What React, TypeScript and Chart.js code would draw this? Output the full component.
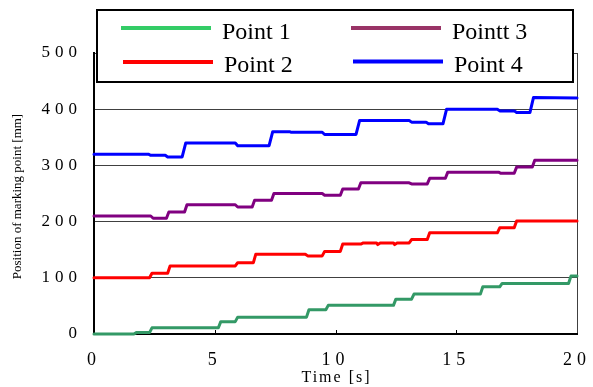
import React, { useEffect, useRef } from "react";
import { Chart, registerables } from "chart.js";

Chart.register(...registerables);

const SERIES_LABELS = ["Point 1", "Point 2", "Pointt 3", "Point 4"];
const X_TICKS = [0, 5, 10, 15, 20];
const Y_TICKS = [0, 100, 200, 300, 400, 500];

const P1_TIME = [0, 1.65, 1.75, 2.3, 2.4, 5.15, 5.25, 5.85, 5.95, 8.8, 8.9, 9.6, 9.7, 12.4, 12.5, 13.15, 13.25, 16.0, 16.1, 16.8, 16.9, 19.65, 19.75, 20];
const P1_POS = [0, 0, 2.5, 2.5, 11, 11, 22, 22, 30, 30, 43, 43, 51, 51, 62, 62, 71, 71, 84, 84, 90, 90, 103, 103];

const P2_TIME = [0, 2.3, 2.4, 3.05, 3.15, 5.85, 5.95, 6.6, 6.7, 8.75, 8.85, 9.45, 9.55, 10.2, 10.3, 11.05, 11.15, 11.7, 11.75, 11.85, 12.4, 12.45, 12.55, 13.05, 13.15, 13.8, 13.9, 16.7, 16.8, 17.4, 17.5, 20];
const P2_POS = [100, 100, 108, 108, 121, 121, 127, 127, 142, 142, 139, 139, 147, 147, 160, 160, 162, 162, 159, 162, 162, 159, 162, 162, 168, 168, 180, 180, 189, 189, 201, 201];

const P3_TIME = [0, 2.35, 2.45, 3.0, 3.1, 3.75, 3.85, 5.85, 5.95, 6.55, 6.65, 7.35, 7.45, 9.45, 9.55, 10.2, 10.3, 10.95, 11.05, 13.05, 13.15, 13.8, 13.9, 14.55, 14.65, 16.75, 16.85, 17.4, 17.5, 18.15, 18.25, 20];
const P3_POS = [210, 210, 206, 206, 217, 217, 230, 230, 226, 226, 238, 238, 250, 250, 247, 247, 258, 258, 269, 269, 267, 267, 277, 277, 288, 288, 286, 286, 297, 297, 309, 309];

const P4_TIME = [0, 2.25, 2.35, 2.95, 3.05, 3.65, 3.8, 5.85, 5.95, 7.25, 7.4, 8.1, 8.15, 9.45, 9.55, 10.85, 11.0, 13.05, 13.15, 13.75, 13.85, 14.45, 14.6, 16.7, 16.8, 17.4, 17.5, 18.05, 18.2, 20];
const P4_POS = [320, 320, 318, 318, 315, 315, 340, 340, 335, 335, 360, 360, 359, 359, 355, 355, 380, 380, 377, 377, 374, 374, 400, 400, 397, 397, 394, 394, 421, 420];

const LINE_COLORS = ["#339966", "#ff0000", "#800080", "#0000ff"];
const LEGEND_COLORS = ["#33cc66", "#ff0000", "#993366", "#0000ff"];

const toPoints = (t: number[], v: number[]) => t.map((x, i) => ({ x, y: v[i] }));

const SERIF = "'Liberation Serif', 'Times New Roman', serif";

const overlayPlugin = {
  id: "overlay",
  beforeDraw(chart: any) {
    chart.ctx.letterSpacing = "5px";
  },
  afterDraw(chart: any) {
    const ctx = chart.ctx as CanvasRenderingContext2D;
    const xs = chart.scales.x;
    const ys = chart.scales.y;
    ctx.save();
    (ctx as any).letterSpacing = "0px";

    // inner x tick marks
    ctx.strokeStyle = "#000";
    ctx.lineWidth = 1;
    for (const v of X_TICKS.slice(1, -1)) {
      const px = Math.round(xs.getPixelForValue(v)) + 0.5;
      ctx.beginPath();
      ctx.moveTo(px, ys.bottom);
      ctx.lineTo(px, ys.bottom - 4);
      ctx.stroke();
    }

    // y axis title
    ctx.save();
    ctx.fillStyle = "#000";
    ctx.font = `13px ${SERIF}`;
    ctx.textAlign = "center";
    ctx.textBaseline = "middle";
    ctx.translate(18, (ys.top + ys.bottom) / 2 + 3);
    ctx.rotate(-Math.PI / 2);
    ctx.fillText("Position of marking point [mm]", 0, 0);
    ctx.restore();

    // x axis title
    ctx.save();
    (ctx as any).letterSpacing = "2px";
    ctx.fillStyle = "#000";
    ctx.font = `16px ${SERIF}`;
    ctx.textAlign = "center";
    ctx.textBaseline = "alphabetic";
    ctx.fillText("Time [s]", (xs.left + xs.right) / 2 + 1, 382);
    ctx.restore();

    // legend box
    ctx.fillStyle = "#fff";
    ctx.fillRect(97, 10, 476, 72);
    ctx.strokeStyle = "#000";
    ctx.lineWidth = 2;
    ctx.strokeRect(97, 10, 476, 72);

    const items = [
      { x: 121, y: 28, tx: 222, ty: 38.5 },
      { x: 123, y: 62, tx: 224, ty: 72 },
      { x: 351, y: 28, tx: 452, ty: 38.5 },
      { x: 353, y: 61.5, tx: 454, ty: 72 },
    ];
    ctx.font = `24px ${SERIF}`;
    ctx.textAlign = "left";
    ctx.textBaseline = "alphabetic";
    items.forEach((it, i) => {
      ctx.strokeStyle = LEGEND_COLORS[i];
      ctx.lineWidth = 4;
      ctx.beginPath();
      ctx.moveTo(it.x, it.y);
      ctx.lineTo(it.x + 90, it.y);
      ctx.stroke();
      ctx.fillStyle = "#000";
      ctx.fillText(chart.data.datasets[i].label, it.tx, it.ty);
    });
    ctx.restore();
  },
};

export default function App() {
  const ref = useRef<HTMLCanvasElement | null>(null);

  useEffect(() => {
    if (!ref.current) return;
    const series = [
      toPoints(P1_TIME, P1_POS),
      toPoints(P2_TIME, P2_POS),
      toPoints(P3_TIME, P3_POS),
      toPoints(P4_TIME, P4_POS),
    ];
    const chart = new Chart(ref.current, {
      type: "line",
      data: {
        datasets: series.map((d, i) => ({
          label: SERIES_LABELS[i],
          data: d,
          borderColor: LINE_COLORS[i],
          backgroundColor: LINE_COLORS[i],
          borderWidth: 3,
          pointRadius: 0,
          tension: 0,
          borderCapStyle: "round",
          borderJoinStyle: "round",
          clip: false,
        })),
      },
      options: {
        animation: false,
        responsive: false,
        devicePixelRatio: 1,
        layout: { padding: { top: 53, right: 16, left: 0, bottom: 0 } },
        plugins: { legend: { display: false }, tooltip: { enabled: false } },
        scales: {
          x: {
            type: "linear",
            min: 0,
            max: 20,
            afterBuildTicks: (s: any) => {
              s.ticks = X_TICKS.map((v) => ({ value: v }));
            },
            afterFit: (s: any) => {
              s.height = 53;
              s.paddingLeft = 0;
              s.paddingRight = 0;
            },
            ticks: {
              font: { family: SERIF, size: 18 },
              color: "#000",
              padding: 15,
              maxRotation: 0,
              autoSkip: false,
            },
            grid: {
              drawTicks: false,
              color: (c: any) => (c.tick && c.tick.value === 20 ? "#404040" : "rgba(0,0,0,0)"),
              lineWidth: 1,
            },
            border: { display: true, color: "#000", width: 2 },
          },
          y: {
            type: "linear",
            min: 0,
            max: 500,
            afterBuildTicks: (s: any) => {
              s.ticks = Y_TICKS.map((v) => ({ value: v }));
            },
            afterFit: (s: any) => {
              s.width = 94;
              s.paddingTop = 0;
              s.paddingBottom = 0;
            },
            ticks: {
              font: { family: SERIF, size: 17 },
              color: "#000",
              padding: 12,
            },
            grid: { drawTicks: false, color: "#404040", lineWidth: 1 },
            border: { display: true, color: "#000", width: 2 },
          },
        },
      },
      plugins: [overlayPlugin],
    } as any);
    return () => chart.destroy();
  }, []);

  return (
    <div style={{ position: "fixed", left: 0, top: 0, width: 593, height: 387, background: "#fff" }}>
      <canvas ref={ref} width={593} height={387} style={{ width: 593, height: 387, display: "block" }} />
    </div>
  );
}
